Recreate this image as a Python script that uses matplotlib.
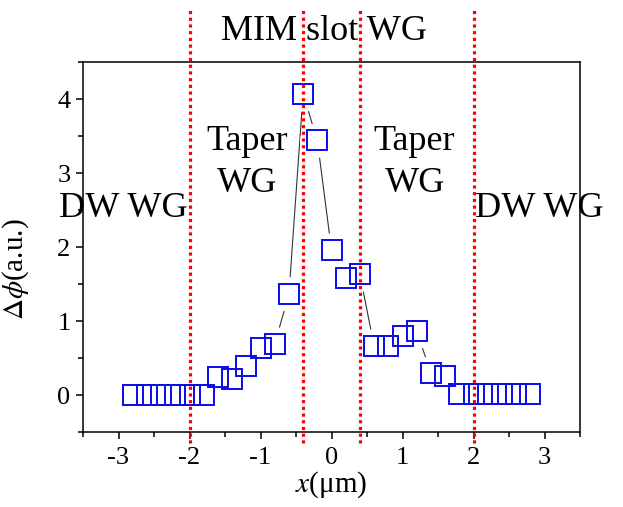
import numpy as np
import matplotlib
matplotlib.use('Agg')
import matplotlib.pyplot as plt
from matplotlib.ticker import MultipleLocator, FuncFormatter

plt.rcParams['font.family'] = ['Liberation Serif', 'DejaVu Serif']
plt.rcParams['mathtext.fontset'] = 'stix'

# data
x_um = [-2.8, -2.6, -2.4, -2.2, -2.0, -1.8, -1.6, -1.4, -1.2, -1.0, -0.8, -0.6, -0.4, -0.2,
        0.0, 0.2, 0.4, 0.6, 0.8, 1.0, 1.2, 1.4, 1.6, 1.8, 2.0, 2.2, 2.4, 2.6, 2.8]
dphi = [0.0, 0.0, 0.0, 0.0, 0.0, 0.0, 0.25, 0.22, 0.39, 0.64, 0.69, 1.36, 4.07, 3.44,
        1.96, 1.58, 1.63, 0.66, 0.66, 0.80, 0.86, 0.30, 0.26, 0.02, 0.02, 0.02, 0.02, 0.02, 0.02]
boundaries = [-2.0, -0.4, 0.4, 2.0]
regions = ['DW WG', 'Taper\nWG', 'MIM slot WG', 'Taper\nWG', 'DW WG']

fig = plt.figure(figsize=(6.23, 5.07), dpi=100)
ax = fig.add_axes([83 / 623, 1 - 432 / 507, 497 / 623, 370 / 507])

# connecting line with a gap round each marker (Origin style)
ax.plot(x_um, dphi, color='#333333', lw=0.8, zorder=1)
ax.plot(x_um, dphi, ls='none', marker='o', ms=25, mfc='white', mec='none', zorder=2)
for b in boundaries:
    ax.plot([b, b], [-0.65, 5.25], color='red', lw=2.3, ls=(0, (1, 1.1)),
            clip_on=False, zorder=3)
ax.plot(x_um, dphi, ls='none', marker='s', ms=14.3, mfc='none', mec='#0a0aee', mew=1.4,
        zorder=4)

ax.set_xlim(-3.5, 3.5)
ax.set_ylim(-0.5, 4.5)
ax.xaxis.set_major_locator(MultipleLocator(1))
ax.xaxis.set_minor_locator(MultipleLocator(0.5))
ax.yaxis.set_major_locator(MultipleLocator(1))
ax.yaxis.set_minor_locator(MultipleLocator(0.5))
ax.tick_params(which='both', direction='out', width=1.1, labelsize=19)
ax.tick_params(which='major', length=5)
ax.tick_params(which='minor', length=3.5)
ax.tick_params(axis='x', pad=6)
ax.tick_params(axis='y', pad=4)
# plain hyphen for minus, as in the original
ax.xaxis.set_major_formatter(FuncFormatter(lambda v, p: '%d' % v if v >= 0 else '-%d' % -v))
ax.yaxis.set_major_formatter(FuncFormatter(lambda v, p: '%d' % v))
for s in ax.spines.values():
    s.set_linewidth(1.1)

ax.set_xlabel(r'$x$(μm)', fontsize=21, labelpad=0)
ax.set_ylabel(r'$\Delta\phi$(a.u.)', fontsize=21)
ax.yaxis.set_label_coords(-0.105, 0.44)

# region labels (baseline of last line)
lab_x = [-2.93, -1.19, -0.1, 1.17, 2.92]
lab_y = [2.41, 2.74, 4.80, 2.74, 2.41]
for t, lx, ly in zip(regions, lab_x, lab_y):
    ax.text(lx, ly, t, fontsize=26, ha='center', va='baseline', multialignment='center',
            linespacing=1.35, clip_on=False, zorder=5)

fig.savefig('out.png', dpi=100)
